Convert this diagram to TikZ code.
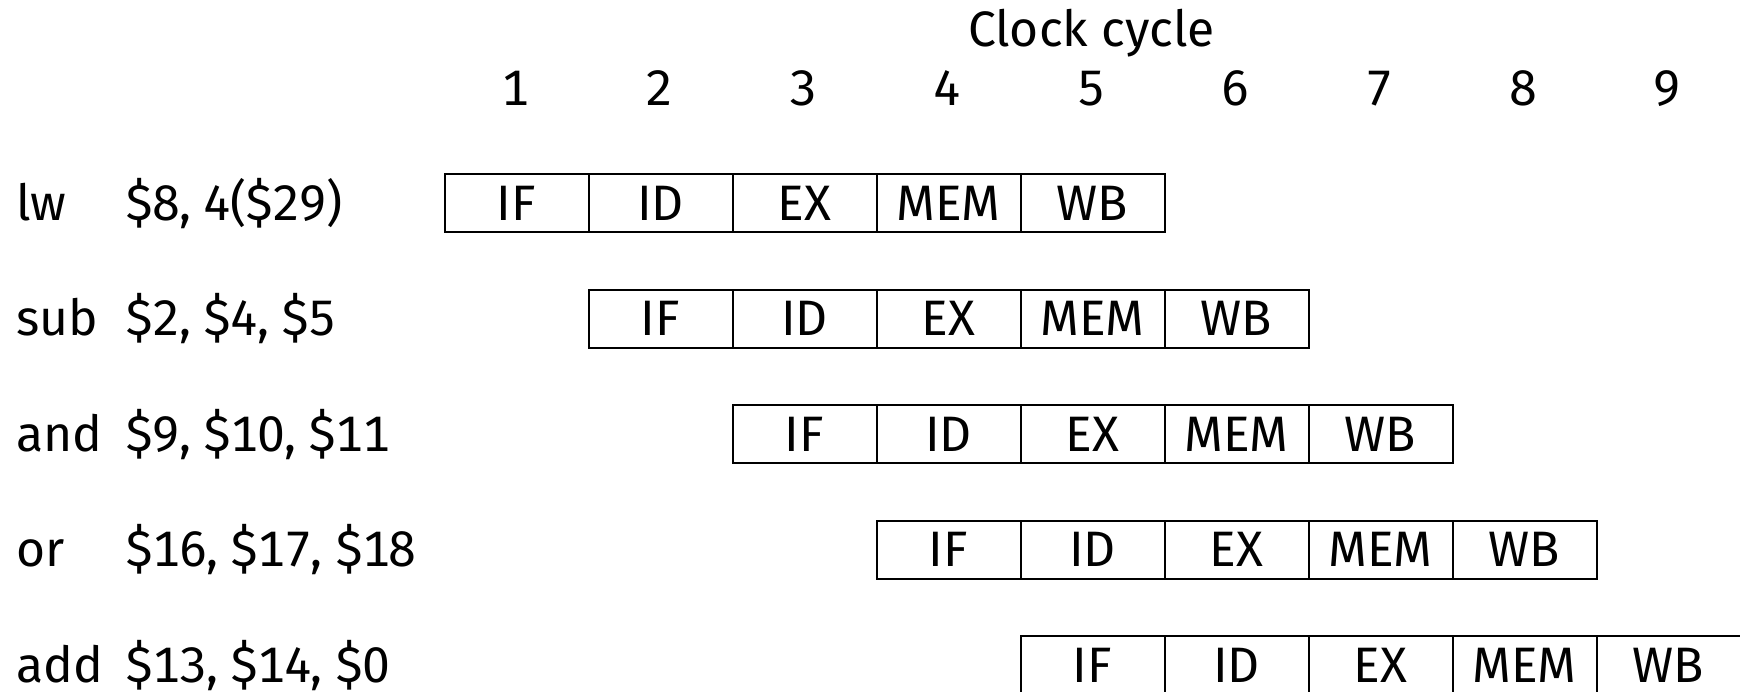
\documentclass[tikz,border=0pt]{standalone}
\usepackage{fontspec}
\setmainfont[Numbers=Monospaced]{Fira Sans}
\newfontfamily\argfont[Numbers=Monospaced,LetterSpace=-2]{Fira Sans}
\begin{document}
\begin{tikzpicture}[x=0.5pt,y=-0.5pt,
  lab/.style={font=\fontsize{24.9}{28}\selectfont},
  stage/.style={lab, draw, line width=1pt, minimum width=72pt, minimum height=29pt, inner sep=0pt, anchor=north west},
  txt/.style={lab, inner sep=0pt, anchor=base west},
  argtxt/.style={font=\argfont\fontsize{24.9}{28}\selectfont, inner sep=0pt, anchor=base west},
  num/.style={lab, inner sep=0pt, anchor=base}]
\useasboundingbox (0,0) rectangle (1740,691);
\node[num] (clk) at (1091.5,46.7) {Clock cycle};
\foreach \k in {1,...,9}
  \node[num] (n\k) at ({443.5+144*\k-72},105) {\k};
\foreach \i/\op/\args in {0/lw/{\$8, 4(\$29)}, 1/sub/{\$2, \$4, \$5}, 2/and/{\$9, \$10, \$11}, 3/or/{\$16, \$17, \$18}, 4/add/{\$13, \$14, \$0}} {
  \node[txt] (op\i) at (16,{173+115.5*\i+47}) {\op};
  \node[argtxt] (arg\i) at (125,{173+115.5*\i+47}) {\args};
  \foreach \s [count=\j from 0] in {IF,ID,EX,MEM,WB}
    \node[stage] (s\i\j) at ({443.5+144*(\i+\j)},{173+115.5*\i}) {\s};
}
\end{tikzpicture}
\end{document}
